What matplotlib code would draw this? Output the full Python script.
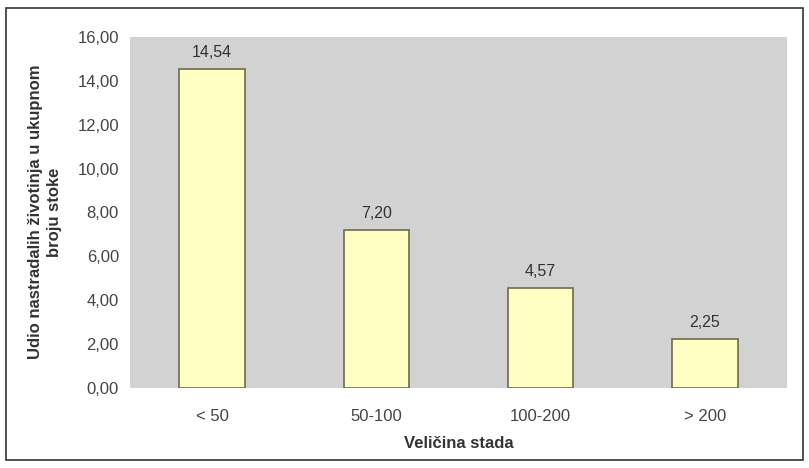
import matplotlib
matplotlib.use("Agg")
import matplotlib.pyplot as plt
from matplotlib.patches import Rectangle

plt.rcParams['font.family'] = ['Liberation Sans', 'DejaVu Sans']

categories = ['< 50', '50-100', '100-200', '> 200']
values = [14.54, 7.20, 4.57, 2.25]
yticks = [0, 2, 4, 6, 8, 10, 12, 14, 16]

fig = plt.figure(figsize=(8.09, 4.68), dpi=100)
fig.patch.set_facecolor('white')

# outer frame around the whole chart
fig.patches.append(Rectangle((6 / 809, 8 / 468), 797 / 809, 452 / 468,
                             transform=fig.transFigure, fill=False,
                             edgecolor='#333333', linewidth=1.2))

ax = fig.add_axes([130 / 809, 80 / 468, 657 / 809, 351 / 468])
ax.set_facecolor('#d2d2d2')

x = range(len(categories))
bars = ax.bar(x, values, width=0.4, color='#ffffc4', edgecolor='#6b6b4a', linewidth=1.2)

for xi, v in zip(x, values):
    ax.text(xi, v + 0.4, f'{v:.2f}'.replace('.', ','), ha='center', va='bottom',
            fontsize=11.5, color='#333333')

ax.set_xlim(-0.5, len(categories) - 0.5)
ax.set_ylim(0, 16)
ax.set_yticks(yticks)
ax.set_yticklabels([f'{t:.2f}'.replace('.', ',') for t in yticks])
ax.set_xticks(list(x))
ax.set_xticklabels(categories)
ax.tick_params(axis='both', length=0, labelsize=12, colors='#444444', pad=8)
ax.tick_params(axis='x', pad=15)

for s in ax.spines.values():
    s.set_visible(False)

fig.text(459 / 809, 1 - 443 / 468, 'Veličina stada', ha='center', va='center',
         fontsize=12, fontweight='bold', color='#333333')
fig.text(45 / 809, 1 - 212 / 468, 'Udio nastradalih životinja u ukupnom\nbroju stoke',
         ha='center', va='center', rotation=90, fontsize=12, fontweight='bold',
         color='#333333', linespacing=1.3)

fig.savefig('out.png', dpi=100)
